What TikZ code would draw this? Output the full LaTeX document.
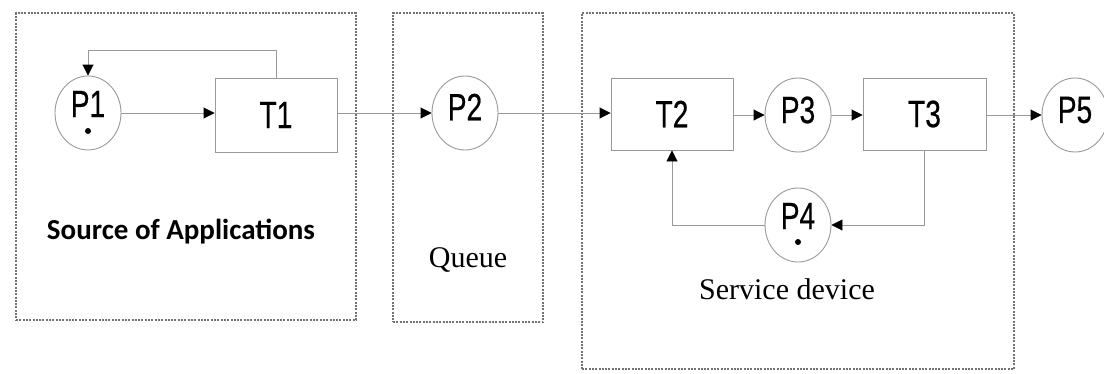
\documentclass[tikz,border=0pt]{standalone}
\usepackage{fontspec}
\setmainfont{Liberation Serif}
\newfontfamily\calfont{Carlito}
\newfontfamily\arialfont[FakeBold=0.6]{Liberation Sans}
\usetikzlibrary{arrows.meta,shapes.geometric}
\newcommand{\plab}[1]{\scalebox{0.74}[1]{\arialfont\fontsize{38}{38}\selectfont #1}}
\tikzset{
  groupbox/.style={draw=black!55, line width=1.4pt, dash pattern=on 2pt off 1.3pt, rectangle, inner sep=0pt},
  place/.style={draw=black!40, line width=0.9pt, ellipse, minimum width=66pt, minimum height=74pt, inner sep=0pt},
  trans/.style={draw=black!40, line width=0.9pt, rectangle, inner sep=0pt},
  arr/.style={draw=black!40, line width=0.9pt, -{Triangle[length=11pt,width=11pt,color=black]}},
  ln/.style={draw=black!40, line width=0.9pt},
  tok/.style={circle, fill=black, inner sep=0pt, minimum size=6pt}
}
\begin{document}
\begin{tikzpicture}[x=1pt,y=-1pt]
\useasboundingbox (0,0) rectangle (1104,373);
% group boxes
\node[groupbox, minimum width=340pt, minimum height=307pt] (src) at (186,166.5) {};
\node[groupbox, minimum width=150pt, minimum height=309pt] (que) at (468,167.5) {};
\node[groupbox, minimum width=432pt, minimum height=356pt] (srv) at (798,191) {};
% places and transitions
\node[place] (P1) at (88,113) {};
\node at (88,104) {\plab{P1}};
\node[tok] (k1) at (88,131) {};
\node[trans, minimum width=122pt, minimum height=74pt] (T1) at (276,115) {\plab{T1}};
\node[place] (P2) at (465,113) {};
\node at (465,107) {\plab{P2}};
\node[trans, minimum width=122pt, minimum height=72pt] (T2) at (672,114) {\plab{T2}};
\node[place] (P3) at (798,115) {};
\node at (798,110) {\plab{P3}};
\node[trans, minimum width=123pt, minimum height=72pt] (T3) at (924.5,114) {\plab{T3}};
\node[place] (P5) at (1075,115) {};
\node at (1075,110) {\plab{P5}};
\node[place] (P4) at (798,225) {};
\node at (798,216) {\plab{P4}};
\node[tok] (k4) at (798,242) {};
% connectors
\draw[arr] (P1.east) -- (P1.east -| T1.west);
\draw[arr] (T1.north) -- ++(0,-27) -| (P1.north);
\draw[arr] (P2.west -| T1.east) -- (P2.west);
\draw[arr] (P2.east) -- (P2.east -| T2.west);
\draw[arr] (P3.west -| T2.east) -- (P3.west);
\draw[arr] (P3.east) -- (P3.east -| T3.west);
\draw[arr] (P5.west -| T3.east) -- (P5.west);
\draw[arr] (T3.south) |- (P4.east);
\draw[arr] (P4.west) -| (T2.south);
% labels
\node (lsrc) at (181,232) {\calfont\bfseries\fontsize{29}{29}\selectfont Source of Applications};
\node (lque) at (468,260) {\fontsize{30}{30}\selectfont Queue};
\node (lsrv) at (787,289) {\fontsize{30}{30}\selectfont Service device};
\end{tikzpicture}
\end{document}
